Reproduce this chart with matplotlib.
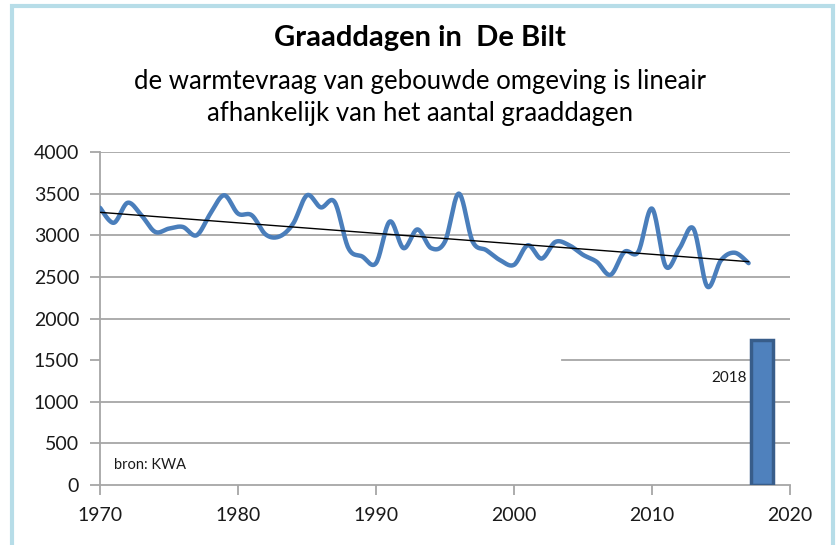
import numpy as np
import matplotlib
matplotlib.use("Agg")
import matplotlib.pyplot as plt
from matplotlib.patches import Rectangle
from matplotlib import font_manager

years = list(range(1970, 2018))
graaddagen = [3330, 3150, 3390, 3240, 3040, 3080, 3100, 3000, 3260, 3480,
              3260, 3240, 3010, 2985, 3140, 3480, 3335, 3400, 2845, 2745,
              2665, 3165, 2845, 3070, 2845, 2925, 3500, 2925, 2820, 2700,
              2645, 2880, 2720, 2920, 2880, 2765, 2680, 2525, 2800, 2800,
              3320, 2625, 2845, 3080, 2385, 2700, 2790, 2665]
bar_year = [2018]
bar_value = [1740]
bar_label = "2018"
title = "Graaddagen in  De Bilt"
subtitle = "de warmtevraag van gebouwde omgeving is lineair\nafhankelijk van het aantal graaddagen"
source = "bron: KWA"
yticks = [0, 500, 1000, 1500, 2000, 2500, 3000, 3500, 4000]
xticks = [1970, 1980, 1990, 2000, 2010, 2020]

names = {f.name for f in font_manager.fontManager.ttflist}
fam = "Lato" if "Lato" in names else "DejaVu Sans"
plt.rcParams['font.family'] = [fam, 'DejaVu Sans']


def catmull_rom(x, y, n=20):
    x = np.asarray(x, float); y = np.asarray(y, float)
    px = np.concatenate([[x[0]], x, [x[-1]]])
    py = np.concatenate([[y[0]], y, [y[-1]]])
    xs, ys = [], []
    for i in range(1, len(px) - 2):
        p0, p1, p2, p3 = (np.array([px[j], py[j]]) for j in (i - 1, i, i + 1, i + 2))
        c1 = p1 + (p2 - p0) / 6.0
        c2 = p2 - (p3 - p1) / 6.0
        t = np.linspace(0, 1, n, endpoint=False)[:, None]
        pts = ((1 - t) ** 3) * p1 + 3 * ((1 - t) ** 2) * t * c1 + 3 * (1 - t) * t ** 2 * c2 + t ** 3 * p2
        xs.append(pts[:, 0]); ys.append(pts[:, 1])
    xs.append([x[-1]]); ys.append([y[-1]])
    return np.concatenate(xs), np.concatenate(ys)


fig = plt.figure(figsize=(8.4, 5.45), dpi=100)
ax = fig.add_axes([100 / 840, 60 / 545, 690 / 840, 333 / 545])

grid_c = "#a6a6a6"
for v in yticks[1:]:
    if v == 1500:
        ax.axhline(v, xmin=(2003.5 - 1970) / 50, xmax=1, color=grid_c, lw=1.3, zorder=1)
    else:
        ax.axhline(v, color=grid_c, lw=1.3, zorder=1)

sx, sy = catmull_rom(years, graaddagen)
ax.plot(sx, sy, color="#4a7ebb", lw=3.2, solid_capstyle="round", zorder=3)

coef = np.polyfit(years, graaddagen, 1)
ax.plot([years[0], years[-1]], np.polyval(coef, [years[0], years[-1]]), color="black", lw=1.0, zorder=4)

ax.bar(bar_year, bar_value, width=1.6, color="#4f81bd", edgecolor="#385d8a", linewidth=2.5, zorder=3)
ax.text(bar_year[0] - 1.1, 1280, bar_label, ha="right", va="center", fontsize=11, color="#1a1a1a")
ax.text(1971, 240, source, ha="left", va="center", fontsize=10.5, color="#1a1a1a")

ax.set_xlim(1970, 2020)
ax.set_ylim(0, 4000)
ax.set_xticks(xticks)
ax.set_yticks(yticks)
ax.tick_params(axis="both", labelsize=14, length=7, width=1.3, color=grid_c, labelcolor="#1a1a1a")
ax.tick_params(axis="x", pad=9)
ax.tick_params(axis="y", pad=8)
for s in ("top", "right"):
    ax.spines[s].set_visible(False)
for s in ("left", "bottom"):
    ax.spines[s].set_color(grid_c)
    ax.spines[s].set_linewidth(1.3)

fig.text(0.5, 1 - 38 / 545, title, ha="center", va="center", fontsize=21, fontweight="bold", color="black")
fig.text(0.5, 1 - 97 / 545, subtitle, ha="center", va="center", fontsize=18.5, color="black", linespacing=1.35)

fig.patches.append(Rectangle((12 / 840, -0.05), (833 - 12) / 840, 1.05 - 6 / 545, transform=fig.transFigure,
                             fill=False, edgecolor="#b7dde8", lw=3, zorder=0))

fig.savefig("out.png", dpi=100)
